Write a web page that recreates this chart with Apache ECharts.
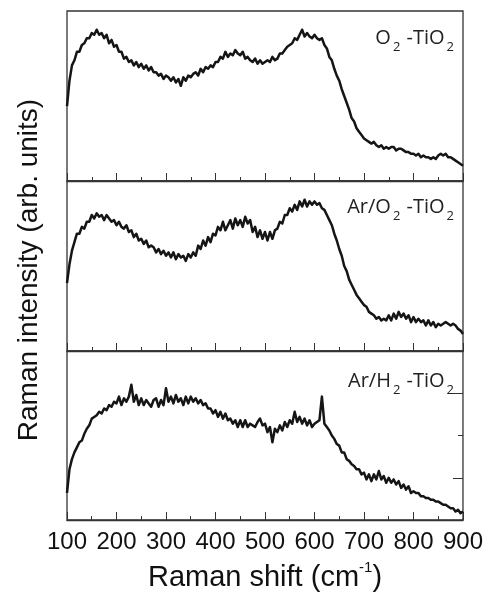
<!DOCTYPE html>
<html>
<head>
<meta charset="utf-8">
<script src="https://cdn.jsdelivr.net/npm/echarts@6/dist/echarts.min.js"></script>
<style>
  html, body { margin: 0; padding: 0; background: #fff; }
  #main { width: 486px; height: 593px; }
</style>
</head>
<body>
<div id="main"></div>
<script>
// Raman shift grid, 100..900 cm-1 every 5
const shiftStart = 100, shiftStep = 5;

// O2-TiO2 (top panel), arb. units
const o2TiO2 = [
  44, 59, 68, 71, 76, 76, 80, 81, 84, 84,
  87, 86, 89, 86, 87, 84, 86, 81, 83, 79,
  80, 76, 76, 72, 73, 70, 71, 68, 70, 67,
  69, 66, 68, 65, 67, 64, 64, 62, 63, 60,
  62, 61, 59, 61, 58, 60, 56, 61, 59, 62,
  61, 63, 64, 62, 66, 64, 67, 66, 68, 67,
  70, 70, 73, 72, 76, 73, 75, 74, 77, 75,
  74, 76, 72, 73, 71, 70, 72, 69, 71, 69,
  70, 71, 70, 73, 71, 72, 75, 75, 77, 79,
  80, 81, 84, 83, 86, 89, 85, 87, 85, 84,
  86, 84, 83, 84, 80, 78, 73, 71, 66, 62,
  59, 54, 50, 46, 42, 37, 35, 31, 29, 27,
  25, 24, 23, 22, 23, 21, 20, 21, 19, 20,
  19, 20, 20, 18, 19, 19, 18, 17, 17, 16,
  16, 15, 16, 14, 15, 14, 14, 13, 14, 13,
  15, 16, 15, 16, 14, 14, 13, 12, 11, 10,
  9
];

// Ar/O2-TiO2 (middle panel)
const arO2TiO2 = [
  40, 51, 59, 64, 69, 69, 73, 72, 76, 76,
  80, 78, 81, 79, 80, 77, 80, 78, 76, 77,
  74, 76, 73, 72, 74, 70, 71, 67, 69, 65,
  66, 63, 65, 61, 62, 61, 58, 60, 57, 59,
  56, 58, 55, 58, 54, 57, 55, 56, 53, 57,
  55, 58, 56, 62, 60, 65, 62, 67, 64, 69,
  68, 73, 71, 76, 71, 74, 77, 72, 78, 74,
  77, 73, 79, 75, 77, 70, 73, 67, 71, 66,
  70, 65, 70, 66, 71, 72, 76, 75, 80, 80,
  84, 82, 86, 83, 88, 85, 89, 85, 88, 86,
  88, 86, 87, 84, 83, 80, 77, 74, 69, 65,
  60, 56, 50, 47, 42, 39, 36, 33, 31, 29,
  27, 26, 23, 22, 21, 19, 20, 18, 19, 18,
  21, 18, 22, 19, 23, 20, 22, 19, 21, 17,
  20, 17, 19, 17, 18, 15, 18, 15, 17, 14,
  16, 15, 16, 17, 16, 15, 16, 15, 13, 12,
  10
];

// Ar/H2-TiO2 (bottom panel)
const arH2TiO2 = [
  16, 30, 36, 40, 43, 46, 47, 51, 54, 56,
  60, 61, 62, 64, 63, 66, 65, 68, 67, 70,
  69, 73, 68, 72, 70, 73, 80, 70, 74, 68,
  72, 68, 71, 69, 67, 71, 72, 67, 71, 68,
  78, 70, 73, 69, 74, 70, 72, 68, 73, 69,
  73, 70, 72, 69, 71, 68, 69, 66, 66, 63,
  65, 61, 64, 60, 63, 59, 60, 57, 59, 55,
  59, 55, 59, 55, 57, 56, 55, 58, 60, 56,
  57, 52, 55, 46, 54, 52, 56, 53, 58, 55,
  59, 57, 64, 58, 61, 57, 60, 56, 59, 55,
  57, 58, 59, 73, 57, 55, 53, 50, 48, 45,
  44, 40, 40, 36, 35, 33, 32, 30, 30, 27,
  28, 24, 27, 23, 27, 24, 29, 24, 26, 22,
  25, 22, 24, 21, 23, 19, 21, 18, 20, 16,
  17, 16, 16, 14, 14, 13, 13, 12, 12, 11,
  11, 10, 9, 9, 8, 7, 7, 5, 6, 4,
  5
];

const xTicks = [100, 200, 300, 400, 500, 600, 700, 800, 900];
const rightMajorTicks = [25, 75];
const rightMinorTicks = [50];

const panels = [o2TiO2, arO2TiO2, arH2TiO2];
const labelTexts = [
  '{a|O}{s|2}{a| -TiO}{s|2}',
  '{a|Ar/O}{s|2}{a| -TiO}{s|2}',
  '{a|Ar/H}{s|2}{a| -TiO}{s|2}'
];

function toPairs(arr) {
  return arr.map((v, i) => [shiftStart + i * shiftStep, v]);
}

const ink = '#151515';
const tops = [11, 181, 351];

const grids = tops.map(t => ({
  left: 67, width: 396, top: t, height: 170,
  show: true, borderColor: '#333', borderWidth: 1.3, backgroundColor: 'transparent'
}));

const xAxes = tops.map((t, i) => ({
  type: 'value', gridIndex: i, min: 100, max: 900, interval: 100,
  axisLine: { show: true, lineStyle: { color: '#333', width: 1.3 } },
  axisTick: { show: true, inside: true, length: 8, lineStyle: { color: '#333', width: 1 } },
  minorTick: { show: true, splitNumber: 2, length: 4, lineStyle: { color: '#333', width: 1 } },
  splitLine: { show: false },
  axisLabel: {
    show: i === 2, color: '#111', fontSize: 24, fontFamily: 'Liberation Sans, Arial',
    margin: 10, customValues: xTicks
  },
  name: i === 2 ? '{a|Raman shift (cm}{sup|-1}{a|)}' : '',
  nameLocation: 'middle', nameGap: 40,
  nameTextStyle: {
    rich: {
      a: { fontSize: 29, fontFamily: 'Liberation Sans, Arial', color: '#111', verticalAlign: 'bottom', lineHeight: 32 },
      sup: { fontSize: 15, fontFamily: 'Liberation Sans, Arial', color: '#111', verticalAlign: 'top', lineHeight: 32, padding: [0, 0, 16, 0] }
    }
  }
}));

const yAxes = tops.map((t, i) => ({
  type: 'value', gridIndex: i, min: 0, max: 100,
  axisLine: { show: false }, axisTick: { show: false },
  axisLabel: { show: false }, splitLine: { show: false }
}));
// right-side ticks on bottom panel only
yAxes.push({
  type: 'value', gridIndex: 2, position: 'right', min: 0, max: 100,
  axisLine: { show: false }, splitLine: { show: false }, axisLabel: { show: false },
  axisTick: { show: true, inside: true, length: 10, customValues: rightMajorTicks, lineStyle: { color: '#333', width: 1 } }
});
yAxes.push({
  type: 'value', gridIndex: 2, position: 'right', min: 0, max: 100,
  axisLine: { show: false }, splitLine: { show: false }, axisLabel: { show: false },
  axisTick: { show: true, inside: true, length: 5, customValues: rightMinorTicks, lineStyle: { color: '#333', width: 1 } }
});

const series = panels.map((arr, i) => ({
  type: 'line', xAxisIndex: i, yAxisIndex: i,
  data: toPairs(arr), showSymbol: false, symbol: 'none',
  lineStyle: { color: ink, width: 2.5, join: 'round' }, animation: false
}));

const richLabel = {
  a: { fontSize: 20, fontFamily: 'Open Sans', fill: '#222', lineHeight: 26, verticalAlign: 'top' },
  s: { fontSize: 13, fontFamily: 'Open Sans', fill: '#222', lineHeight: 14, verticalAlign: 'bottom', padding: [18, 1, 0, 2] }
};
const labelTops = [23, 192, 366];

const graphic = labelTexts.map((txt, i) => ({
  type: 'text', right: 31, top: labelTops[i],
  style: { text: txt, rich: richLabel }
}));
graphic.push({
  type: 'text', x: 29, y: 270, rotation: Math.PI / 2,
  style: {
    text: 'Raman intensity (arb. units)', fontSize: 28, fontFamily: 'Liberation Sans, Arial',
    fill: '#111', align: 'center', verticalAlign: 'middle'
  }
});

const chart = echarts.init(document.getElementById('main'), null, { renderer: 'canvas' });
chart.setOption({
  animation: false,
  grid: grids, xAxis: xAxes, yAxis: yAxes, series: series, graphic: graphic
});
</script>
</body>
</html>
